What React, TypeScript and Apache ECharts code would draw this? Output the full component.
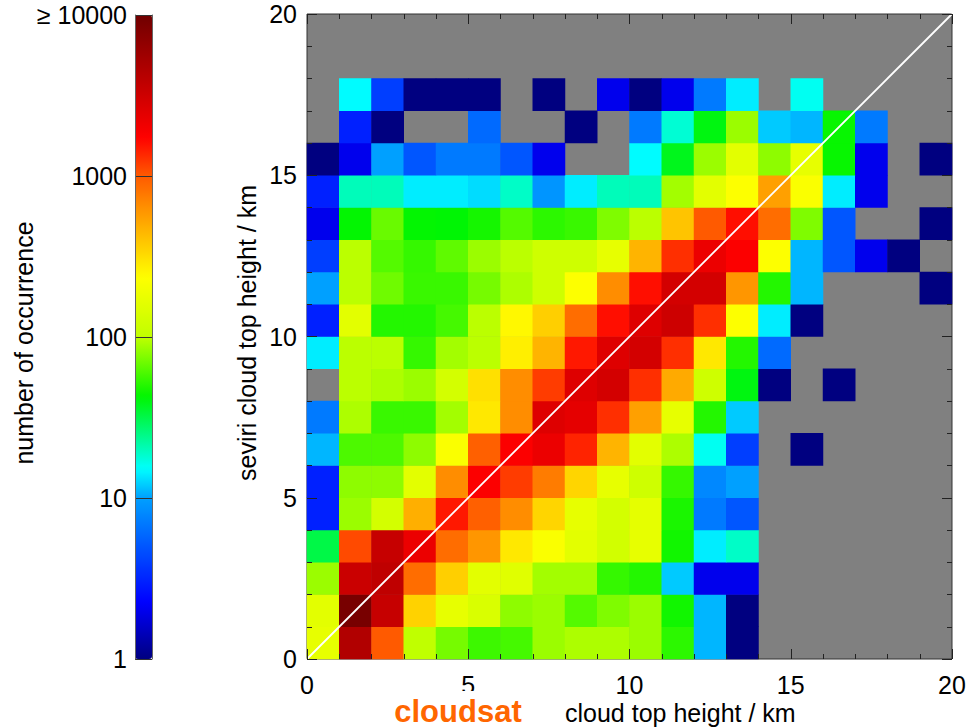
import React, { useEffect, useRef } from "react";
import * as echarts from "echarts";

// ---------------- data ----------------
// 1-km bins of cloudsat (x) and seviri (y) cloud top height
const binLabels = ["0", "1", "2", "3", "4", "5", "6", "7", "8", "9", "10", "11", "12", "13", "14", "15", "16", "17", "18", "19"];

// number of occurrence per bin; rows from y-bin 0 (bottom) to 19 (top), 0 = no data
const countsY00 = [170, 4500, 1000, 100, 72, 56, 58, 85, 92, 92, 85, 52, 11, 1, 0, 0, 0, 0, 0, 0];
const countsY01 = [160, 9000, 3500, 350, 170, 140, 80, 85, 62, 75, 85, 46, 11, 1, 0, 0, 0, 0, 0, 0];
const countsY02 = [85, 3300, 3800, 850, 360, 160, 155, 88, 88, 54, 50, 12, 2, 2, 0, 0, 0, 0, 0, 0];
const countsY03 = [32, 1100, 3500, 2200, 850, 600, 290, 220, 160, 125, 170, 46, 14, 19, 0, 0, 0, 0, 0, 0];
const countsY04 = [3, 85, 130, 480, 1500, 950, 650, 340, 170, 130, 165, 48, 7, 5, 0, 0, 0, 0, 0, 0];
const countsY05 = [3, 80, 80, 160, 650, 1800, 1200, 750, 340, 170, 120, 54, 8, 10, 0, 0, 0, 0, 0, 0];
const countsY06 = [11, 60, 60, 80, 220, 950, 1800, 2200, 1400, 460, 160, 92, 16, 4, 0, 1, 0, 0, 0, 0];
const countsY07 = [7, 92, 55, 55, 88, 290, 650, 2600, 2400, 1300, 550, 170, 50, 12, 0, 0, 0, 0, 0, 0];
const countsY08 = [0, 98, 92, 85, 130, 310, 650, 1200, 2600, 3000, 1300, 500, 120, 40, 1, 0, 1, 0, 0, 0];
const countsY09 = [14, 98, 98, 54, 88, 98, 270, 460, 1500, 2600, 3000, 1300, 290, 50, 6, 0, 0, 0, 0, 0];
const countsY10 = [3, 160, 50, 50, 58, 98, 250, 360, 850, 1600, 2600, 3200, 1300, 230, 14, 1, 0, 0, 0, 0];
const countsY11 = [10, 98, 70, 55, 55, 72, 92, 120, 230, 650, 1600, 3000, 3000, 600, 50, 11, 0, 0, 0, 1];
const countsY12 = [4, 98, 62, 54, 65, 85, 98, 120, 120, 170, 460, 1300, 2200, 1800, 230, 11, 5, 2, 1, 0];
const countsY13 = [2, 43, 68, 43, 42, 47, 62, 52, 55, 75, 98, 400, 1000, 1600, 850, 75, 5, 0, 0, 1];
const countsY14 = [3, 20, 20, 14, 14, 13, 19, 9, 14, 20, 20, 88, 160, 230, 550, 220, 14, 2, 0, 0];
const countsY15 = [1, 2, 10, 5, 7, 7, 5, 2, 0, 0, 15, 38, 85, 160, 80, 170, 44, 2, 0, 1];
const countsY16 = [0, 3, 1, 0, 0, 6, 0, 0, 1, 0, 7, 18, 40, 85, 12, 11, 44, 7, 0, 0];
const countsY17 = [0, 15, 4, 1, 1, 1, 0, 1, 0, 2, 1, 2, 7, 14, 0, 16, 0, 0, 0, 0];
const countsY18 = [0, 0, 0, 0, 0, 0, 0, 0, 0, 0, 0, 0, 0, 0, 0, 0, 0, 0, 0, 0];
const countsY19 = [0, 0, 0, 0, 0, 0, 0, 0, 0, 0, 0, 0, 0, 0, 0, 0, 0, 0, 0, 0];

const countRows = [
  countsY00, countsY01, countsY02, countsY03, countsY04, countsY05, countsY06, countsY07, countsY08, countsY09,
  countsY10, countsY11, countsY12, countsY13, countsY14, countsY15, countsY16, countsY17, countsY18, countsY19,
];

// 1:1 line
const diagonal = [[0, 0], [20, 20]];

// axis tick values / colour bar labels (log10 of count)
const kmTicks = [0, 5, 10, 15, 20];
const colorbarTickLabels = ["1", "10", "100", "1000", "\u2265 10000"];

// colour map stops: [log10(count), colour]
const cmapStops: [number, string][] = [
  [0, "#000080"],
  [0.35, "#0000ff"],
  [1.0, "#00a0ff"],
  [1.18, "#00ffff"],
  [1.63, "#00f500"],
  [2.0, "#c0ff00"],
  [2.37, "#ffff00"],
  [2.78, "#ff9600"],
  [3.0, "#ff5a00"],
  [3.24, "#ff0000"],
  [4.0, "#700000"],
];

const FONT = "'Liberation Sans', Arial, Helvetica, sans-serif";

function hexToRgb(h: string) {
  return [parseInt(h.slice(1, 3), 16), parseInt(h.slice(3, 5), 16), parseInt(h.slice(5, 7), 16)];
}
function sampleCmap(t: number) {
  for (let i = 0; i < cmapStops.length - 1; i++) {
    const [t0, c0] = cmapStops[i];
    const [t1, c1] = cmapStops[i + 1];
    if (t >= t0 && t <= t1) {
      const f = (t - t0) / (t1 - t0);
      const a = hexToRgb(c0);
      const b = hexToRgb(c1);
      const r = a.map((v, k) => Math.round(v + (b[k] - v) * f));
      return `rgb(${r[0]},${r[1]},${r[2]})`;
    }
  }
  return cmapStops[cmapStops.length - 1][1];
}

export default function App() {
  const ref = useRef<HTMLDivElement>(null);

  useEffect(() => {
    if (!ref.current) return;
    const chart = echarts.init(ref.current, null, { renderer: "svg" });

    const palette: string[] = [];
    for (let i = 0; i <= 160; i++) palette.push(sampleCmap((i / 160) * 4));

    const heatData: number[][] = [];
    countRows.forEach((row, yi) => {
      row.forEach((cnt, xi) => {
        if (cnt > 0) heatData.push([xi, yi, Math.log10(cnt)]);
      });
    });

    const tickStyle = { color: "#222", width: 1 };
    const kmAxisCommon = {
      type: "value",
      gridIndex: 0,
      min: kmTicks[0],
      max: kmTicks[kmTicks.length - 1],
      interval: kmTicks[1] - kmTicks[0],
      z: 10,
      axisLine: { show: false },
      splitLine: { show: false },
      axisTick: { show: true, inside: true, length: 10, lineStyle: tickStyle },
      minorTick: { show: true, splitNumber: 5, length: 5, lineStyle: tickStyle },
    };
    const labelStyle = { fontSize: 25, color: "#000", fontFamily: FONT };

    const option: any = {
      animation: false,
      backgroundColor: "#ffffff",
      textStyle: { fontFamily: FONT },
      grid: [
        { left: 307, top: 14, width: 645, height: 645, show: true, backgroundColor: "#808080", borderColor: "#333", borderWidth: 1 },
        { left: 135, top: 15, width: 17, height: 644, show: false },
      ],
      xAxis: [
        { type: "category", gridIndex: 0, data: binLabels, show: false },
        { ...kmAxisCommon, position: "bottom", axisLabel: { ...labelStyle, margin: 13 } },
        { ...kmAxisCommon, position: "top", axisLabel: { show: false } },
        { type: "value", gridIndex: 1, show: false, min: 0, max: 1 },
      ],
      yAxis: [
        { type: "category", gridIndex: 0, data: binLabels, show: false },
        { ...kmAxisCommon, position: "left", axisLabel: { ...labelStyle, margin: 10 } },
        { ...kmAxisCommon, position: "right", axisLabel: { show: false } },
        {
          type: "value",
          gridIndex: 1,
          position: "left",
          min: 0,
          max: colorbarTickLabels.length - 1,
          interval: 1,
          z: 10,
          axisLine: { show: true, lineStyle: { color: "#666", width: 1 } },
          axisTick: { show: false },
          splitLine: { show: true, lineStyle: { color: "#333", width: 1 } },
          axisLabel: {
            ...labelStyle,
            margin: 8,
            formatter: (v: number) => colorbarTickLabels[Math.round(v)] ?? "",
          },
        },
        {
          type: "value",
          gridIndex: 1,
          position: "right",
          min: 0,
          max: colorbarTickLabels.length - 1,
          interval: 1,
          z: 10,
          axisLine: { show: true, lineStyle: { color: "#666", width: 1 } },
          axisTick: { show: false },
          splitLine: { show: false },
          axisLabel: { show: false },
        },
      ],
      visualMap: {
        type: "continuous",
        seriesIndex: 0,
        min: 0,
        max: colorbarTickLabels.length - 1,
        left: 135,
        top: 15,
        itemWidth: 17,
        itemHeight: 644,
        padding: 0,
        calculable: false,
        hoverLink: false,
        inRange: { color: palette },
      },
      series: [
        {
          type: "heatmap",
          xAxisIndex: 0,
          yAxisIndex: 0,
          data: heatData,
          itemStyle: { borderWidth: 0 },
          emphasis: { disabled: true },
          silent: true,
        },
        {
          type: "line",
          xAxisIndex: 1,
          yAxisIndex: 1,
          data: diagonal,
          showSymbol: false,
          symbol: "none",
          silent: true,
          z: 5,
          lineStyle: { color: "#ffffff", width: 1.8 },
        },
      ],
      graphic: [
        {
          type: "text",
          z: 100,
          x: 24,
          y: 343,
          rotation: Math.PI / 2,
          style: { text: "number of occurrence", font: `25px ${FONT}`, fill: "#000", align: "center", verticalAlign: "middle" },
        },
        {
          type: "text",
          z: 100,
          x: 247,
          y: 333,
          rotation: Math.PI / 2,
          style: { text: "seviri cloud top height / km", font: `25px ${FONT}`, fill: "#000", align: "center", verticalAlign: "middle" },
        },
        {
          type: "text",
          z: 100,
          x: 565,
          y: 713,
          style: { text: "cloud top height / km", font: `25px ${FONT}`, fill: "#000", align: "left", verticalAlign: "middle" },
        },
        {
          type: "text",
          z: 100,
          x: 458,
          y: 711,
          style: {
            text: "cloudsat",
            font: `bold 31px ${FONT}`,
            fill: "#ff6600",
            align: "center",
            verticalAlign: "middle",
            backgroundColor: "#ffffff",
            padding: [5, 3, 4, 3],
          },
        },
      ],
    };

    chart.setOption(option);
    return () => chart.dispose();
  }, []);

  return <div ref={ref} style={{ position: "absolute", left: 0, top: 0, width: 969, height: 727 }} />;
}
